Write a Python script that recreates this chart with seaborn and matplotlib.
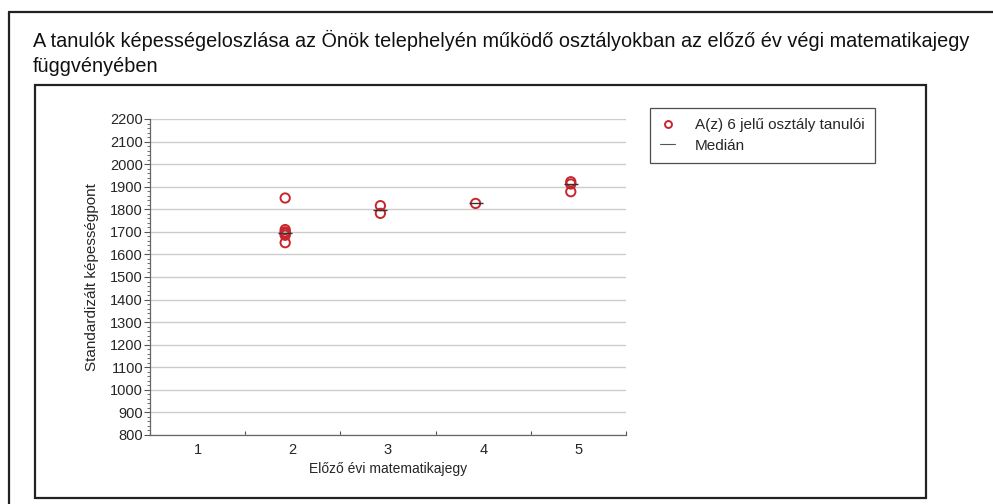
import numpy as np
import pandas as pd
import matplotlib
matplotlib.use("Agg")
import matplotlib.pyplot as plt
from matplotlib.lines import Line2D
from matplotlib.patches import Rectangle
from matplotlib.ticker import MultipleLocator, FixedLocator
import seaborn as sns

sns.set_style("white")
plt.rcParams['font.family'] = ['Liberation Sans', 'DejaVu Sans']

# data
grade = [2, 2, 2, 2, 2, 2, 3, 3, 4, 5, 5, 5]
score = [1850, 1710, 1700, 1693, 1685, 1652, 1816, 1782, 1826, 1922, 1912, 1878]
grade_labels = ['1', '2', '3', '4', '5']

title = ("A tanulók képességeloszlása az Önök telephelyén működő osztályokban az előző év végi matematikajegy\n"
         "függvényében")
xlabel = "Előző évi matematikajegy"
ylabel = "Standardizált képességpont"
legend_labels = ["A(z) 6 jelű osztály tanulói", "Medián"]

red = "#c8262c"
dodge = -0.08  # points sit a little left of the category centre

df = pd.DataFrame({'grade': grade, 'score': score})
df['xpos'] = df['grade'] + dodge
med = df.groupby('grade', as_index=False)['score'].median()
med['xpos'] = med['grade'] + dodge

fig = plt.figure(figsize=(9.93, 5.04), dpi=100)

# page frame pieces
fig.add_artist(Line2D([9 / 993, 1], [1 - 12 / 504] * 2, color='#222222', lw=1.6, transform=fig.transFigure))
fig.add_artist(Line2D([9 / 993] * 2, [1 - 12 / 504, 0], color='#222222', lw=1.6, transform=fig.transFigure))
fig.add_artist(Rectangle((35 / 993, 1 - 498 / 504), (926 - 35) / 993, (498 - 85) / 504,
                         fill=False, ec='#222222', lw=1.6, transform=fig.transFigure))

fig.text(33 / 993, 1 - 30 / 504, title, ha='left', va='top', fontsize=14.3,
         linespacing=1.4, color='#111111')

ax = fig.add_axes([150 / 993, 1 - 435 / 504, 476 / 993, 316 / 504])

sns.scatterplot(data=df, x='xpos', y='score', ax=ax, marker='o', s=45,
                facecolors='none', edgecolor=red, linewidth=1.4, zorder=3)
sns.scatterplot(data=med, x='xpos', y='score', ax=ax, marker='_', s=90,
                color='#333333', linewidth=1.0, zorder=4)

ax.set_xlim(0.5, 5.5)
ax.set_ylim(800, 2200)
ax.yaxis.set_major_locator(MultipleLocator(100))
ax.yaxis.set_minor_locator(MultipleLocator(20))
ax.xaxis.set_major_locator(FixedLocator([1, 2, 3, 4, 5]))
ax.set_xticklabels(grade_labels)
ax.xaxis.set_minor_locator(FixedLocator([0.5, 1.5, 2.5, 3.5, 4.5, 5.5]))

ax.grid(axis='y', color='#cccccc', lw=1.0)
ax.set_axisbelow(True)
for s in ['top', 'right']:
    ax.spines[s].set_visible(False)
for s in ['left', 'bottom']:
    ax.spines[s].set_color('#666666')
    ax.spines[s].set_linewidth(0.9)

ax.tick_params(axis='y', which='major', length=4, width=0.8, color='#555555',
               labelsize=10.5, pad=1, left=True)
ax.tick_params(axis='y', which='minor', length=2, width=0.6, color='#555555', left=True)
ax.tick_params(axis='x', which='major', length=0, labelsize=10.5, pad=6)
ax.tick_params(axis='x', which='minor', length=3, width=0.8, color='#555555',
               direction='in', bottom=True)

ax.set_xlabel(xlabel, fontsize=10, labelpad=3)
ax.set_ylabel(ylabel, fontsize=11, labelpad=8)

handles = [Line2D([], [], ls='none', marker='o', mfc='none', mec=red, mew=1.4, ms=5),
           Line2D([], [], color='#555555', lw=0.8)]
leg = fig.legend(handles, legend_labels, loc='upper left',
                 bbox_to_anchor=(650 / 993, 1 - 108 / 504), frameon=True,
                 fontsize=11, handlelength=1.0, handletextpad=1.3,
                 borderpad=0.65, labelspacing=0.45, fancybox=False,
                 borderaxespad=0)
leg.get_frame().set_edgecolor('#222222')
leg.get_frame().set_linewidth(0.9)

fig.savefig('out.png', dpi=100)
